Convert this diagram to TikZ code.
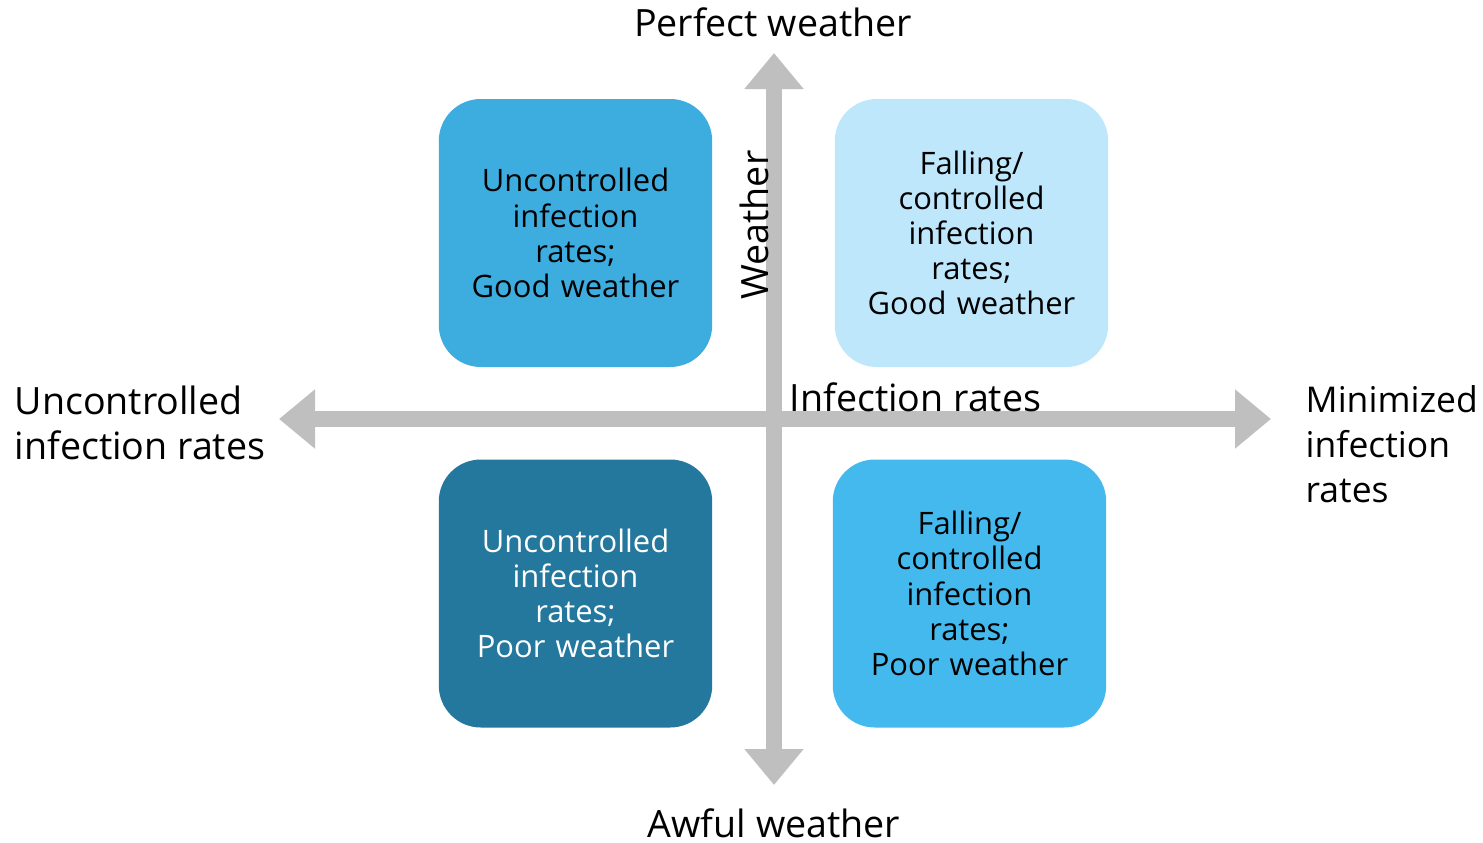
\documentclass[tikz,border=0pt]{standalone}
\usepackage{fontspec}
\setmainfont{Open Sans}
\usetikzlibrary{arrows.meta}

\definecolor{axisgray}{HTML}{BFBFBF}
\definecolor{boxmid}{HTML}{3DADE0}
\definecolor{boxlight}{HTML}{BFE7FB}
\definecolor{boxdark}{HTML}{24789E}
\definecolor{boxbright}{HTML}{44B9ED}

\begin{document}
\begin{tikzpicture}[line cap=butt, line join=miter,
    axis/.style={line width=4.6pt, draw=axisgray,
      {Triangle[length=3.6mm, width=5.7mm]}-{Triangle[length=3.6mm, width=5.7mm]}},
    quad/.style={rounded corners=4.2mm, minimum width=2.67cm, minimum height=2.68cm,
      text width=2.5cm, align=center, font=\fontsize{8.8}{10}\selectfont},
    axlabel/.style={font=\fontsize{10.7}{12.8}\selectfont, align=left}]
    \useasboundingbox (0,0) rectangle (14.83,8.42);

    % ends of the two axes
    \coordinate (W) at (2.79,4.23);
    \coordinate (E) at (12.71,4.23);
    \coordinate (N) at (7.74,7.89);
    \coordinate (S) at (7.74,0.57);

    % axes
    \draw[axis] (W) -- (E);
    \draw[axis] (S) -- (N);

    % the four quadrants
    \node[quad, fill=boxmid] (upleft) at (5.755,6.09)
      {Uncontrolled\\ infection\\ rates;\\ Good weather};
    \node[quad, fill=boxlight] (upright) at (9.715,6.09)
      {Falling/\\ controlled\\ infection\\ rates;\\ Good weather};
    \node[quad, fill=boxdark, text=white] (lowleft) at (5.755,2.485)
      {Uncontrolled\\ infection\\ rates;\\ Poor weather};
    \node[quad, fill=boxbright] (lowright) at (9.695,2.485)
      {Falling/\\ controlled\\ infection\\ rates;\\ Poor weather};

    % axis labels
    \node[axlabel] (perfect) at (7.73,8.20) {Perfect weather};
    \node[axlabel] (awful) at (7.74,0.19) {Awful weather};
    \node[axlabel, anchor=west, inner sep=0pt] (uncontrolled) at (0.14,4.195)
      {Uncontrolled\\ infection rates};
    \node[axlabel, anchor=west, inner sep=0pt, font=\fontsize{10.1}{12.8}\selectfont]
      (minimized) at (13.05,3.975) {Minimized\\ infection\\ rates};
    \node[axlabel, anchor=base west, inner sep=0pt] (infection) at (7.89,4.31)
      {Infection rates};
    \node[axlabel, anchor=base, rotate=90, inner sep=0pt] (weather) at (7.68,6.17)
      {Weather};
\end{tikzpicture}
\end{document}
